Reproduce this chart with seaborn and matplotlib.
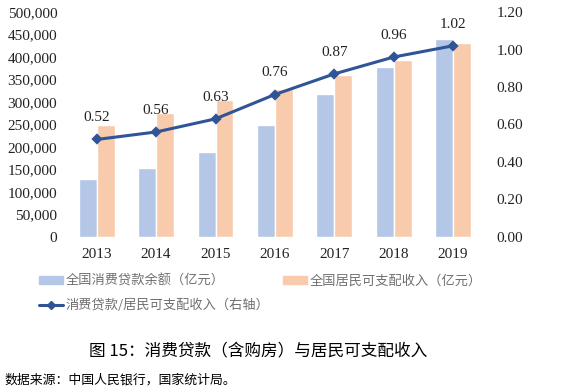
import matplotlib
matplotlib.use("Agg")
import matplotlib.pyplot as plt
import seaborn as sns
import pandas as pd
from matplotlib.patches import Patch
from matplotlib.lines import Line2D
from matplotlib.ticker import FuncFormatter

years = ["2013", "2014", "2015", "2016", "2017", "2018", "2019"]
consumer_loans = [129000, 153000, 189000, 249000, 317000, 377000, 440000]
disposable_income = [248000, 275000, 304000, 330000, 360000, 393000, 431000]
ratio = [0.52, 0.56, 0.63, 0.76, 0.87, 0.96, 1.02]

name_loans = "全国消费贷款余额（亿元）"
name_income = "全国居民可支配收入（亿元）"
name_ratio = "消费贷款/居民可支配收入（右轴）"

df = pd.DataFrame({
    "year": years * 2,
    "value": consumer_loans + disposable_income,
    "series": [name_loans] * len(years) + [name_income] * len(years),
})

sns.set_theme(style="white")
plt.rcParams["font.family"] = ["Noto Sans CJK SC", "DejaVu Sans"]
num_font = ["Liberation Serif", "DejaVu Serif"]

c_blue = "#B4C7E7"
c_orange = "#F8CBAD"
c_line = "#2F5597"

fig = plt.figure(figsize=(5.68, 3.89), dpi=100)
ax = fig.add_axes([0.118, 0.391, 0.732, 0.578])

sns.barplot(data=df, x="year", y="value", hue="series",
            palette=[c_blue, c_orange], width=0.6, gap=0, ax=ax,
            legend=False, saturation=1)
ax.set_ylim(0, 500000)
ax.set_yticks(range(0, 500001, 50000))
ax.yaxis.set_major_formatter(FuncFormatter(lambda v, p: f"{int(v):,}"))
ax.set_xlabel("")
ax.set_ylabel("")
for s in ax.spines.values():
    s.set_visible(False)
ax.tick_params(axis="both", length=0, labelsize=11, colors="#222222")
ax.tick_params(axis="x", pad=8)
ax.tick_params(axis="y", pad=7)
for lab in ax.get_xticklabels() + ax.get_yticklabels():
    lab.set_family(num_font)

ax2 = ax.twinx()
sns.pointplot(x=years, y=ratio, color=c_line, markers="D", ax=ax2,
              markersize=4.5, linewidth=2.2)
ax2.set_ylim(0, 1.2)
ax2.set_yticks([0, 0.2, 0.4, 0.6, 0.8, 1.0, 1.2])
ax2.yaxis.set_major_formatter(FuncFormatter(lambda v, p: f"{v:.2f}"))
for s in ax2.spines.values():
    s.set_visible(False)
ax2.tick_params(axis="y", length=0, labelsize=11, colors="#222222", pad=10)
ax2.set_ylabel("")
ax.set_xlim(-0.5, 6.5)
fig.canvas.draw()
for lab in ax2.get_yticklabels():
    lab.set_family(num_font)

for i, v in enumerate(ratio):
    ax2.annotate(f"{v:.2f}", (i, v), xytext=(0, 11), textcoords="offset points",
                 ha="center", va="bottom", fontsize=11, color="#222222",
                 family=num_font)

handles = [
    Patch(color=c_blue, label=name_loans),
    Line2D([0], [0], color=c_line, marker="D", markersize=4, linewidth=2.2, label=name_ratio),
    Patch(color=c_orange, label=name_income),
]
fig.legend(handles=handles, loc="upper left", bbox_to_anchor=(0.06, 0.308),
           ncol=2, frameon=False, fontsize=9.5, labelcolor="#707070",
           handlelength=1.8, handleheight=0.5, handletextpad=0.2,
           columnspacing=1.0, labelspacing=0.85, borderaxespad=0)

fig.text(0.455, 0.095, "图 15：消费贷款（含购房）与居民可支配收入",
         ha="center", va="center", fontsize=12, color="#000000")
fig.text(0.008, 0.022, "数据来源：中国人民银行，国家统计局。",
         ha="left", va="center", fontsize=9.3, color="#000000")

fig.savefig("out.png", dpi=100)
